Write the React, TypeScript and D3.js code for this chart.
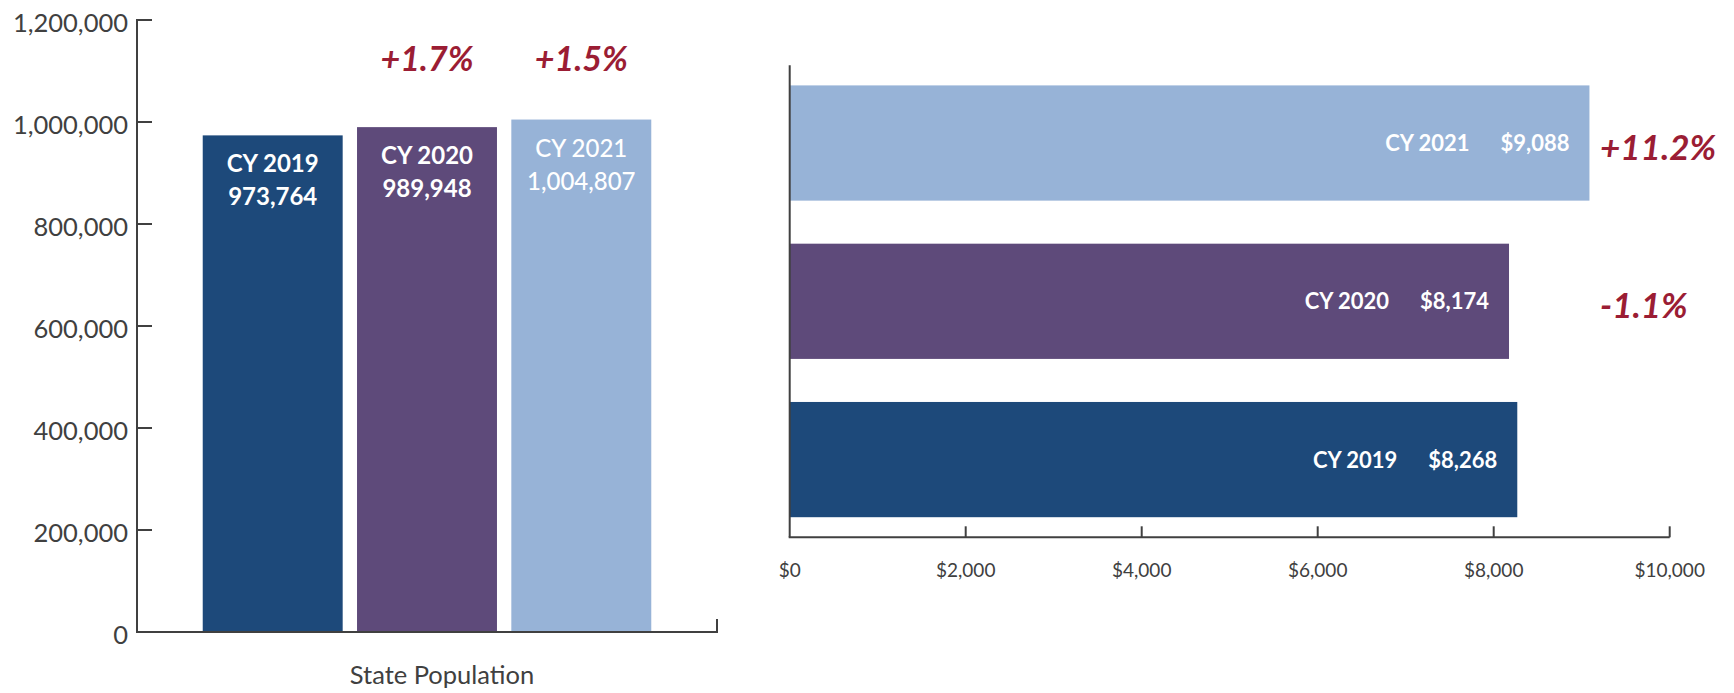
import React from "react";
import * as d3 from "d3";

// ---------- Data ----------
const popYears = ["CY 2019", "CY 2020", "CY 2021"];
const popValues = [973764, 989948, 1004807];
const popChange = ["", "+1.7%", "+1.5%"];
const popTicks = [0, 200000, 400000, 600000, 800000, 1000000, 1200000];
const popAxisLabel = "State Population";

const costYears = ["CY 2021", "CY 2020", "CY 2019"];
const costValues = [9088, 8174, 8268];
const costChange = ["+11.2%", "-1.1%", ""];
const costTicks = [0, 2000, 4000, 6000, 8000, 10000];

// ---------- Styles ----------
const yearColors: Record<string, string> = {
  "CY 2019": "#1D497A",
  "CY 2020": "#5E4A7A",
  "CY 2021": "#97B3D7",
};
const yearWeights: Record<string, number> = {
  "CY 2019": 700,
  "CY 2020": 700,
  "CY 2021": 500,
};
const RED = "#9B1D34";
const AXIS = "#404040";
const FONT = "Lato, 'Open Sans', sans-serif";

export default function App() {
  const W = 1734;
  const H = 693;

  // Left chart
  const lx0 = 137, lx1 = 717, ly0 = 632, ly1 = 20;
  const ly = d3.scaleLinear().domain([0, 1200000]).range([ly0, ly1]);
  const lx = d3.scaleBand<string>().domain(popYears).range([lx0, lx1]).paddingInner(0.093).paddingOuter(0.426);
  const fmtPop = d3.format(",");

  // Right chart
  const rx0 = 789.7, rx1 = 1669.7, ry0 = 537.3, ry1 = 65.3;
  const rx = d3.scaleLinear().domain([0, 10000]).range([rx0, rx1]);
  const ry = d3.scaleBand<string>().domain(costYears).range([ry1, ry0]).paddingInner(0.272).paddingOuter(0.127);
  const fmtCost = d3.format("$,");

  return (
    <svg width={W} height={H} style={{ position: "absolute", left: 0, top: 0, background: "#fff" }} fontFamily={FONT}>
      {/* ---- Left chart ---- */}
      {popYears.map((yr, i) => {
        const x = lx(yr)!;
        const y = ly(popValues[i]);
        const cx = x + lx.bandwidth() / 2;
        return (
          <g key={yr}>
            <rect x={x} y={y} width={lx.bandwidth()} height={ly0 - y} fill={yearColors[yr]} />
            <text x={cx} y={y + 37} textAnchor="middle" fill="#fff" fontSize={24} fontWeight={yearWeights[yr]}>{yr}</text>
            <text x={cx} y={y + 70} textAnchor="middle" fill="#fff" fontSize={24} fontWeight={yearWeights[yr]}>{fmtPop(popValues[i])}</text>
            {popChange[i] && (
              <text x={cx} y={70.7} textAnchor="middle" fill={RED} fontSize={34} fontWeight={700} fontStyle="italic">{popChange[i]}</text>
            )}
          </g>
        );
      })}
      {/* y axis */}
      <line x1={lx0} x2={lx0} y1={ly1 - 1} y2={ly0} stroke={AXIS} strokeWidth={2} />
      {popTicks.map((t) => (
        <g key={t}>
          {t > 0 && <line x1={lx0} x2={lx0 + 15} y1={ly(t)} y2={ly(t)} stroke={AXIS} strokeWidth={2} />}
          <text x={lx0 - 9} y={ly(t) + 12} textAnchor="end" fill={AXIS} fontSize={25.5}>{fmtPop(t)}</text>
        </g>
      ))}
      {/* x axis */}
      <line x1={lx0 - 1} x2={lx1} y1={ly0} y2={ly0} stroke={AXIS} strokeWidth={2} />
      <line x1={lx1} x2={lx1} y1={ly0 + 1} y2={ly0 - 13} stroke={AXIS} strokeWidth={2} />
      <text x={442} y={684} textAnchor="middle" fill={AXIS} fontSize={25.5}>{popAxisLabel}</text>

      {/* ---- Right chart ---- */}
      {costYears.map((yr, i) => {
        const y = ry(yr)!;
        const xe = rx(costValues[i]);
        const cy = y + ry.bandwidth() / 2;
        return (
          <g key={yr}>
            <rect x={rx0} y={y} width={xe - rx0} height={ry.bandwidth()} fill={yearColors[yr]} />
            <text x={xe - 20} y={cy + 8} textAnchor="end" fill="#fff" fontSize={22} fontWeight={700}>
              {yr}
              <tspan dx={31}>{fmtCost(costValues[i])}</tspan>
            </text>
            {costChange[i] && (
              <text x={1600} y={cy + 16.5} textAnchor="start" fill={RED} fontSize={35} fontWeight={700} fontStyle="italic">{costChange[i]}</text>
            )}
          </g>
        );
      })}
      <line x1={rx0} x2={rx0} y1={ry1} y2={ry0} stroke={AXIS} strokeWidth={2} />
      <line x1={rx0 - 1} x2={rx1} y1={ry0} y2={ry0} stroke={AXIS} strokeWidth={2} />
      {costTicks.map((t) => (
        <g key={t}>
          {t > 0 && <line x1={rx(t)} x2={rx(t)} y1={ry0} y2={ry0 - 11} stroke={AXIS} strokeWidth={2} />}
          <text x={rx(t)} y={576.7} textAnchor="middle" fill={AXIS} fontSize={19}>{fmtCost(t)}</text>
        </g>
      ))}
    </svg>
  );
}
